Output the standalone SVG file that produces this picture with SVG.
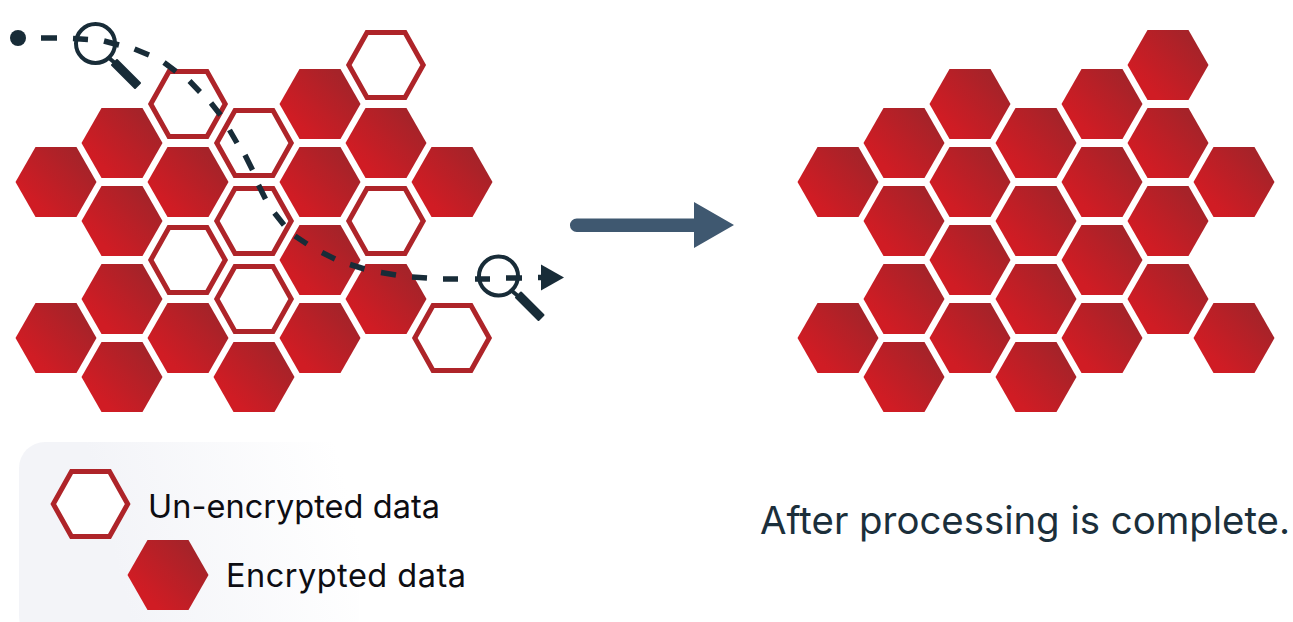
<svg xmlns="http://www.w3.org/2000/svg" width="1293" height="622" viewBox="0 0 1293 622">
<style>
.lbl{font-family:"Inter","Liberation Sans",sans-serif;fill:#0d0d12}
.cap{font-family:"Inter","Liberation Sans",sans-serif;fill:#1b2f3b}
.dash{fill:none;stroke:#182c38;stroke-width:5.5}
.lens{fill:none;stroke:#182c38;stroke-width:4}
.neck{fill:none;stroke:#182c38;stroke-width:4}
.grip{fill:#182c38;stroke:#182c38;stroke-width:2;stroke-linejoin:round}
</style>
<defs>
<linearGradient id="red" x1="0.12" y1="0.85" x2="0.9" y2="0.2">
<stop offset="0.12" stop-color="#d01c24"/><stop offset="0.95" stop-color="#a62329"/>
</linearGradient>
<linearGradient id="panel" gradientUnits="userSpaceOnUse" x1="110" y1="540" x2="345" y2="480">
<stop offset="0" stop-color="#f3f4f8"/><stop offset="1" stop-color="#ffffff"/>
</linearGradient>
<polygon id="hf" points="-40.5,0 -20.5,-35 20.5,-35 40.5,0 20.5,35 -20.5,35" fill="url(#red)"/>
<polygon id="ho" points="-37.2,0 -19,-32.5 19,-32.5 37.2,0 19,32.5 -19,32.5" fill="#fff" stroke="#ae2429" stroke-width="5"/>
<marker id="tip" markerUnits="userSpaceOnUse" markerWidth="26" markerHeight="28" refX="3" refY="14" orient="auto" viewBox="0 0 26 28"><polygon points="0,1 23,14 0,27" fill="#182c38"/></marker>
</defs>
<rect id="legend-panel" x="19" y="442" width="340" height="200" rx="26" fill="url(#panel)"/>
<g id="before">
<g id="a1"><use href="#hf" x="56" y="182"/></g>
<g id="a2"><use href="#hf" x="56" y="338"/></g>
<g id="a3"><use href="#hf" x="122" y="143"/></g>
<g id="a4"><use href="#hf" x="122" y="221"/></g>
<g id="a5"><use href="#hf" x="122" y="299"/></g>
<g id="a6"><use href="#hf" x="122" y="377"/></g>
<g id="a7"><use href="#ho" x="188" y="104"/></g>
<g id="a8"><use href="#hf" x="188" y="182"/></g>
<g id="a9"><use href="#ho" x="188" y="260"/></g>
<g id="a10"><use href="#hf" x="188" y="338"/></g>
<g id="a11"><use href="#ho" x="254" y="143"/></g>
<g id="a12"><use href="#ho" x="254" y="221"/></g>
<g id="a13"><use href="#ho" x="254" y="299"/></g>
<g id="a14"><use href="#hf" x="254" y="377"/></g>
<g id="a15"><use href="#hf" x="320" y="104"/></g>
<g id="a16"><use href="#hf" x="320" y="182"/></g>
<g id="a17"><use href="#hf" x="320" y="260"/></g>
<g id="a18"><use href="#hf" x="320" y="338"/></g>
<g id="a19"><use href="#ho" x="386" y="65"/></g>
<g id="a20"><use href="#hf" x="386" y="143"/></g>
<g id="a21"><use href="#ho" x="386" y="221"/></g>
<g id="a22"><use href="#hf" x="386" y="299"/></g>
<g id="a23"><use href="#hf" x="452" y="182"/></g>
<g id="a24"><use href="#ho" x="452" y="338"/></g>
</g>
<g id="after">
<g id="b1"><use href="#hf" x="838" y="182"/></g>
<g id="b2"><use href="#hf" x="838" y="338"/></g>
<g id="b3"><use href="#hf" x="904" y="143"/></g>
<g id="b4"><use href="#hf" x="904" y="221"/></g>
<g id="b5"><use href="#hf" x="904" y="299"/></g>
<g id="b6"><use href="#hf" x="904" y="377"/></g>
<g id="b7"><use href="#hf" x="970" y="104"/></g>
<g id="b8"><use href="#hf" x="970" y="182"/></g>
<g id="b9"><use href="#hf" x="970" y="260"/></g>
<g id="b10"><use href="#hf" x="970" y="338"/></g>
<g id="b11"><use href="#hf" x="1036" y="143"/></g>
<g id="b12"><use href="#hf" x="1036" y="221"/></g>
<g id="b13"><use href="#hf" x="1036" y="299"/></g>
<g id="b14"><use href="#hf" x="1036" y="377"/></g>
<g id="b15"><use href="#hf" x="1102" y="104"/></g>
<g id="b16"><use href="#hf" x="1102" y="182"/></g>
<g id="b17"><use href="#hf" x="1102" y="260"/></g>
<g id="b18"><use href="#hf" x="1102" y="338"/></g>
<g id="b19"><use href="#hf" x="1168" y="65"/></g>
<g id="b20"><use href="#hf" x="1168" y="143"/></g>
<g id="b21"><use href="#hf" x="1168" y="221"/></g>
<g id="b22"><use href="#hf" x="1168" y="299"/></g>
<g id="b23"><use href="#hf" x="1234" y="182"/></g>
<g id="b24"><use href="#hf" x="1234" y="338"/></g>
</g>
<g id="connectors">
<circle cx="18" cy="38" r="8" fill="#182c38"/>
<path class="dash" marker-end="url(#tip)" d="M41 38H57M73 38.5L88 39.5M104 41L119 45M134.5 49L149 55M164 62.5L176 71.5M189.5 81L200 92M211 103L220.5 115M229.5 130L237 143M245 155L252.5 170M258.5 185L265.5 199M274.5 213L284 225M295 236L307 244M322 252.5L335 259M350 264.5L364.5 269M381 272.5L396 275M412 277L427 278M443 279H458M475 279H490M506 278H522M538 277.5H544"/>
<path fill="#3f5870" d="M576.7 218.5H694V202L734 225L694 248V232H576.7a6.7 6.7 0 0 1 0-13.5z"/>
</g>
<g id="magnifier-1"><circle class="lens" cx="95.5" cy="43.5" r="19.5"/><path class="neck" d="M109 58L115 63"/><path class="grip" d="M117 60L140 83L135 88L112 65Z"/></g>
<g id="magnifier-2"><circle class="lens" cx="498.5" cy="276" r="19.5"/><path class="neck" d="M512 291L518 296"/><path class="grip" d="M521 292.500L543.500 315L538.500 320L516 297.500Z"/></g>
<g id="legend-unencrypted"><use href="#ho" x="90.5" y="504"/><text class="lbl" x="148" y="518" font-size="32.500" textLength="292">Un-encrypted data</text></g>
<g id="legend-encrypted"><use href="#hf" x="168" y="575"/><text class="lbl" x="226" y="587" font-size="32.500" textLength="240">Encrypted data</text></g>
<g id="caption"><text class="cap" x="760" y="534" font-size="38.400" textLength="530">After processing is complete.</text></g>
</svg>
